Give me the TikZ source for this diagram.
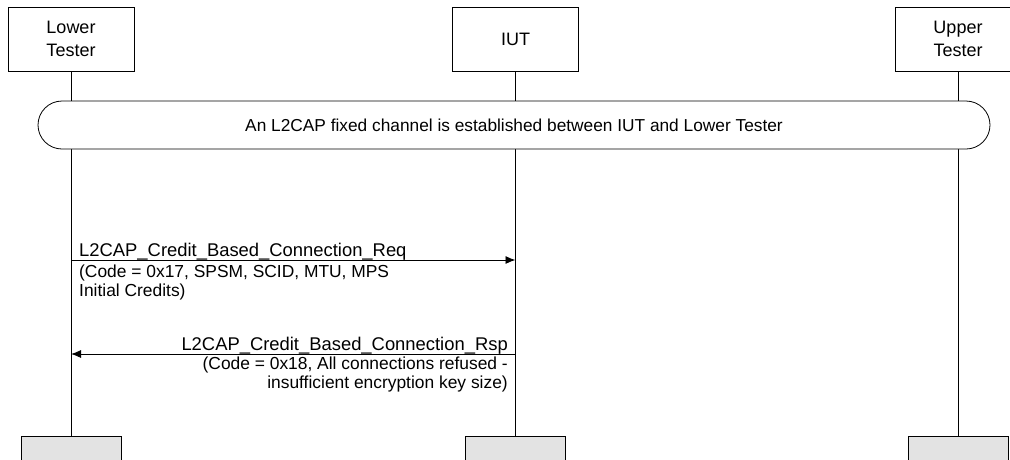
\documentclass[tikz,border=0pt]{standalone}
\usepackage{fontspec}
\setmainfont{Liberation Sans}
\usetikzlibrary{arrows.meta,positioning}

\tikzset{
  actor/.style={draw, line width=0.9pt, minimum width=126pt, minimum height=64pt, align=center, font=\fontsize{18}{22.5}\selectfont},
  actorend/.style={draw, line width=0.9pt, fill=black!11, minimum width=100pt, minimum height=40pt},
  lifeline/.style={line width=0.9pt},
  setupbar/.style={draw, fill=white, line width=0.8pt, rounded corners=24pt, minimum width=952pt, minimum height=48pt, font=\fontsize{17.3}{20}\selectfont},
  msg/.style={inner sep=0pt, font=\fontsize{18.4}{20}\selectfont},
  msgnote/.style={inner sep=0pt, font=\fontsize{17.4}{19}\selectfont},
  msgarrow/.style={line width=0.9pt, -{Latex[length=10pt,width=8pt]}},
}

\begin{document}
\begin{tikzpicture}[x=1pt, y=-1pt]
  \useasboundingbox (0,0) rectangle (1010,459);

  % instances
  \node[actor] (lt) at (71,39) {Lower\\Tester};
  \node[actor] (iut) at (515.5,39) {IUT};
  \node[actor] (ut) at (958,39) {Upper\\Tester};

  \node[actorend, anchor=north] (ltend) at (71,436) {};
  \node[actorend, anchor=north] (iutend) at (515.5,436) {};
  \node[actorend, anchor=north] (utend) at (958,436) {};

  \draw[lifeline] (lt) -- (ltend);
  \draw[lifeline] (iut) -- (iutend);
  \draw[lifeline] (ut) -- (utend);

  % precondition
  \node[setupbar] (setup) at (514,125) {An L2CAP fixed channel is established between IUT and Lower Tester};

  % request
  \coordinate (req) at (0,260);
  \draw[msgarrow] (lt |- req) -- (iut |- req);
  \node[msg, anchor=base west] (reqlbl) at (79,256.5) {L2CAP\_Credit\_Based\_Connection\_Req};
  \node[msgnote, anchor=base west] (reqnote1) at (79,277.5) {(Code = 0x17, SPSM, SCID, MTU, MPS};
  \node[msgnote, anchor=base west] (reqnote2) at (79,296.5) {Initial Credits)};

  % response
  \coordinate (rsp) at (0,354);
  \draw[msgarrow] (iut |- rsp) -- (lt |- rsp);
  \node[msg, anchor=base east] (rsplbl) at (508,350) {L2CAP\_Credit\_Based\_Connection\_Rsp};
  \node[msgnote, anchor=base east] (rspnote1) at (508,369) {(Code = 0x18, All connections refused -};
  \node[msgnote, anchor=base east] (rspnote2) at (508,388) {insufficient encryption key size)};
\end{tikzpicture}
\end{document}
